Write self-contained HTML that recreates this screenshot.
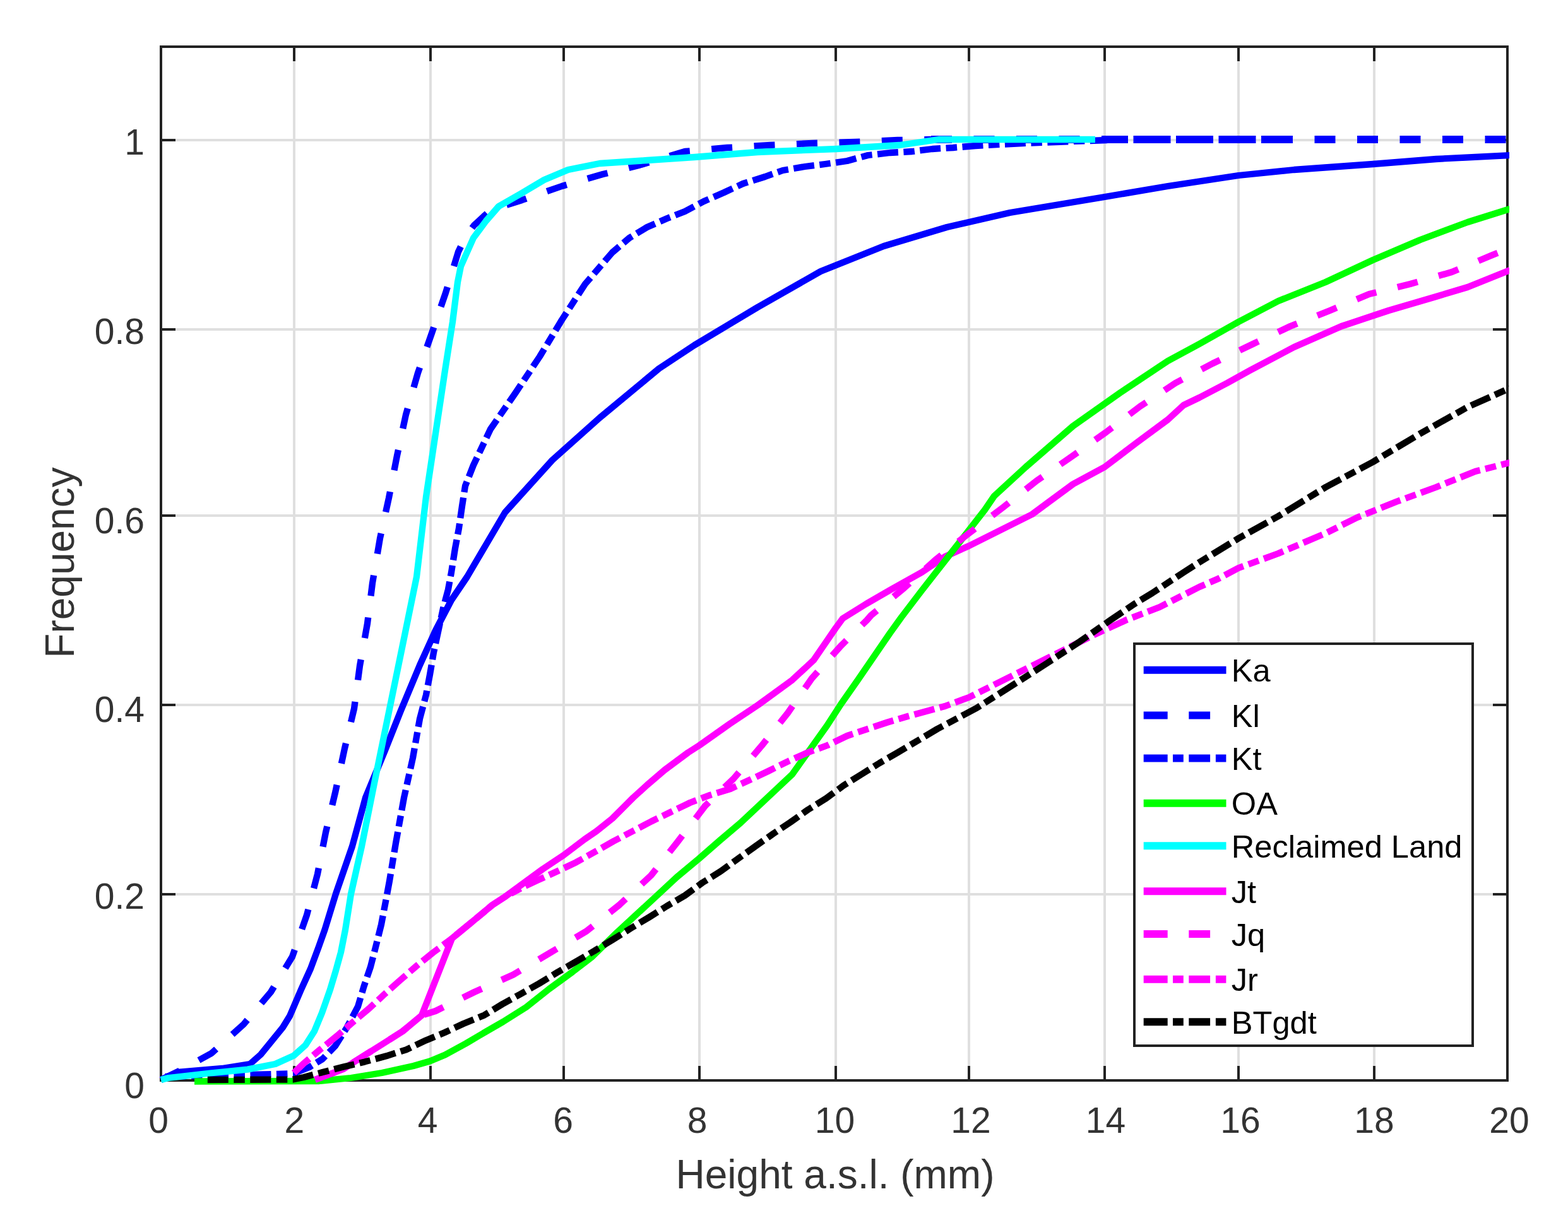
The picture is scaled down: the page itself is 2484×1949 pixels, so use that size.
<!DOCTYPE html>
<html lang="en"><head><meta charset="utf-8"><title>Frequency vs Height a.s.l.</title>
<style>html,body{margin:0;padding:0;background:#fff}svg{display:block}text{font-family:"Liberation Sans",Arial,Helvetica,sans-serif}</style></head><body>
<svg width="2484" height="1949" viewBox="0 0 2484 1949">
<rect width="2484" height="1949" fill="#fff"/>
<g shape-rendering="crispEdges">
<rect x="464" y="74" width="4" height="1638" fill="#dfdfdf"/>
<rect x="680" y="74" width="4" height="1638" fill="#dfdfdf"/>
<rect x="891" y="74" width="4" height="1638" fill="#dfdfdf"/>
<rect x="1106" y="74" width="4" height="1638" fill="#dfdfdf"/>
<rect x="1322" y="74" width="4" height="1638" fill="#dfdfdf"/>
<rect x="1533" y="74" width="4" height="1638" fill="#dfdfdf"/>
<rect x="1748" y="74" width="4" height="1638" fill="#dfdfdf"/>
<rect x="1960" y="74" width="4" height="1638" fill="#dfdfdf"/>
<rect x="2175" y="74" width="4" height="1638" fill="#dfdfdf"/>
<rect x="255" y="1415" width="2133" height="4" fill="#dfdfdf"/>
<rect x="255" y="1115" width="2133" height="4" fill="#dfdfdf"/>
<rect x="255" y="815" width="2133" height="4" fill="#dfdfdf"/>
<rect x="255" y="520" width="2133" height="4" fill="#dfdfdf"/>
<rect x="255" y="220" width="2133" height="4" fill="#dfdfdf"/>
<rect x="253" y="72" width="2137" height="4" fill="#222222"/>
<rect x="253" y="1710" width="2137" height="4" fill="#222222"/>
<rect x="253" y="72" width="4" height="1642" fill="#222222"/>
<rect x="2386" y="72" width="4" height="1642" fill="#222222"/>
<rect x="464" y="1689" width="4" height="21" fill="#222222"/>
<rect x="464" y="76" width="4" height="21" fill="#222222"/>
<rect x="680" y="1689" width="4" height="21" fill="#222222"/>
<rect x="680" y="76" width="4" height="21" fill="#222222"/>
<rect x="891" y="1689" width="4" height="21" fill="#222222"/>
<rect x="891" y="76" width="4" height="21" fill="#222222"/>
<rect x="1106" y="1689" width="4" height="21" fill="#222222"/>
<rect x="1106" y="76" width="4" height="21" fill="#222222"/>
<rect x="1322" y="1689" width="4" height="21" fill="#222222"/>
<rect x="1322" y="76" width="4" height="21" fill="#222222"/>
<rect x="1533" y="1689" width="4" height="21" fill="#222222"/>
<rect x="1533" y="76" width="4" height="21" fill="#222222"/>
<rect x="1748" y="1689" width="4" height="21" fill="#222222"/>
<rect x="1748" y="76" width="4" height="21" fill="#222222"/>
<rect x="1960" y="1689" width="4" height="21" fill="#222222"/>
<rect x="1960" y="76" width="4" height="21" fill="#222222"/>
<rect x="2175" y="1689" width="4" height="21" fill="#222222"/>
<rect x="2175" y="76" width="4" height="21" fill="#222222"/>
<rect x="257" y="1415" width="21" height="4" fill="#222222"/>
<rect x="2365" y="1415" width="21" height="4" fill="#222222"/>
<rect x="257" y="1115" width="21" height="4" fill="#222222"/>
<rect x="2365" y="1115" width="21" height="4" fill="#222222"/>
<rect x="257" y="815" width="21" height="4" fill="#222222"/>
<rect x="2365" y="815" width="21" height="4" fill="#222222"/>
<rect x="257" y="520" width="21" height="4" fill="#222222"/>
<rect x="2365" y="520" width="21" height="4" fill="#222222"/>
<rect x="257" y="220" width="21" height="4" fill="#222222"/>
<rect x="2365" y="220" width="21" height="4" fill="#222222"/>
</g>
<defs><clipPath id="c"><rect x="253" y="72" width="2138" height="1647"/></clipPath></defs>
<g clip-path="url(#c)" fill="none" stroke-width="10.3" stroke-linejoin="round">
<path d="M255 1711 L282 1699 L352 1693 L396 1686 L413 1671 L448 1628 L459 1610 L477 1568 L492 1535 L505 1500 L514.4 1473.5 L531.9 1416.5 L558 1341 L579 1264 L610 1189 L635 1126 L665 1054 L690 999 L715 951 L740 914 L800 812 L875 729 L950 662 L1044 584 L1100 547 L1200 487 L1300 430 L1400 390 L1500 360 L1600 337 L1750 312 L1850 295 L1962 278 L2050 269 L2175 260 L2275 252 L2392 246" stroke="#0000ff"/>
<path d="M255 1711 L284 1697 L335 1669 L386 1623 L429 1572 L463 1516 L486 1450 L503 1385 L516 1319 L531.5 1254 L546 1186 L561 1123 L570 1055 L582 988 L590 924 L602 853 L616 789 L629 722 L643 657 L662 591 L684 528 L706 464 L726 399 L737 376 L751 357 L777 333 L827 317 L890 295 L955 276 L1012 262 L1085 240 L1152 234 L1220 230 L1287 227 L1355 225 L1422 222 L1475 221" stroke="#0000ff" stroke-dasharray="33 34.5"/>
<path d="M1475 221 L2392 221" stroke="#0000ff" stroke-width="12" stroke-dasharray="33 34.5"/>
<path d="M261.5 1706 L396 1703 L465 1701 L490 1691 L511 1678 L531 1657.5 L549 1629 L567 1595 L576.5 1563 L587 1532 L595.5 1499 L604 1465 L612 1423 L617 1396 L622 1366 L627 1336 L640 1264 L654 1201 L665 1139 L675 1101 L681 1069 L687 1034 L702 964 L710 934 L715 907 L721 869 L727 837 L732 802 L737 770 L750 737 L777 680 L817 622 L855 565 L890 507 L927 450 L970 400 L997 377 L1025 360 L1057 346 L1085 335 L1115 319 L1147 305 L1177 291 L1212 280 L1240 270 L1275 264 L1307 260 L1342 255 L1375 246 L1410 242 L1445 240 L1477 236 L1510 234 L1545 231 L1620 227 L1700 224 L1754 222" stroke="#0000ff" stroke-dasharray="33 8.5 17.5 8.5"/>
<path d="M1754 221 L2048 221" stroke="#0000ff" stroke-width="12" stroke-dasharray="33 8.5 17.5 8.5"/>
<path d="M255 1711 L267 1708 L333 1700.5 L392 1694.6 L436 1686 L465.5 1672.6 L484 1656 L498 1634 L510 1605 L523 1568 L532 1538 L540 1509 L547 1473.5 L556 1416.5 L573 1341 L593.4 1239 L611.4 1151 L626.8 1076 L642.2 1001 L660 914 L675 787 L690 687 L705 587 L717 510 L725 447 L730 422 L750 377 L770 350 L790 327 L825 307 L862 285 L900 269 L950 259 L1025 254 L1100 249 L1200 241 L1325 236 L1425 230 L1487 221 L1735 221" stroke="#00ffff"/>
<path d="M499 1711 L523 1702 L544 1694 L562 1682 L605 1655 L638 1634 L668 1609 L716 1487 L750 1459 L780 1434 L800 1421 L830 1399 L860 1377 L893 1355 L926 1330 L945 1317 L970 1297 L1003 1264 L1025 1244 L1053 1220 L1090 1192.5 L1108 1181 L1156 1147 L1201 1117 L1255 1077.6 L1289 1046 L1324 995 L1335 980 L1372 957 L1410 935 L1460 907 L1497 882 L1535 865 L1585 840 L1635 815 L1662 795 L1700 767 L1750 740 L1800 702 L1850 665 L1875 642 L1900 630 L1944 607 L1980 587 L2050 550 L2125 517 L2200 492 L2275 470 L2325 455 L2392 428" stroke="#ff00ff"/>
<path d="M308 1713.5 L506 1713 L556 1708 L605 1700 L655 1689 L681 1681.5 L705 1671.6 L738 1653.5 L771 1634 L797 1619 L833.5 1596 L870 1567 L907 1540 L937 1517 L978 1477 L1043 1417 L1072 1390 L1108 1360 L1140 1332 L1173 1304 L1222 1258 L1255 1227 L1310 1150 L1332 1116 L1360 1076 L1410 1003 L1428 978 L1460 936 L1510 872 L1560 808 L1575 786 L1625 740 L1700 675 L1775 622 L1850 572 L1900 545 L1962 510 L2025 477 L2100 447 L2175 412 L2250 380 L2325 352 L2392 331" stroke="#00ff00"/>
<path d="M499 1711 L523 1702 L544 1694 L562 1682 L605 1655 L638 1634 L668 1609 L690 1602 L751.4 1572 L813 1544.5 L871 1510 L929 1475.5 L981.5 1433.6 L1031.5 1387 L1073 1334.5 L1117 1277 L1162 1234 L1206.6 1181.7 L1248 1129.7 L1286 1075 L1332 1023.5 L1373 983 L1380 975 L1432 932 L1482 887 L1535 845 L1589 804 L1642 762 L1697 724 L1752 685 L1806 644 L1862 607 L1921 576 L1985 545 L2044 517 L2107 492 L2169 466 L2234 450 L2300 431 L2362 405 L2392 393" stroke="#ff00ff" stroke-dasharray="33 34.5"/>
<path d="M465.5 1700 L480.5 1685.7 L506 1664 L533.4 1641.8 L557.4 1621 L584.7 1598 L607.8 1576.5 L633 1554 L660 1530.5 L686 1509.5 L716 1487 L750 1459 L780 1434 L800 1421 L830 1405 L852 1394.7 L884 1380 L912.3 1366.6 L942 1350 L971.8 1333 L1002.4 1317 L1032 1301.5 L1062 1287 L1093 1272 L1123 1260.5 L1157 1250 L1188.4 1235.5 L1218 1221.5 L1248 1206.6 L1279.4 1192.5 L1310.8 1181 L1342 1166 L1373.6 1155.3 L1406 1144.5 L1438 1135 L1497 1119 L1535 1105 L1585 1080 L1635 1055 L1685 1030 L1735 1005 L1785 982 L1837 962 L1900 930 L1930 917 L1962 900 L2025 877 L2100 845 L2150 820 L2212 795 L2275 772 L2337 747 L2392 733" stroke="#ff00ff" stroke-dasharray="33 8.5 17.5 8.5"/>
<path d="M328.8 1711 L464 1710.5 L481.3 1707 L511 1699 L544 1690.6 L578 1682.4 L612 1673.3 L643.4 1663.3 L674.8 1648.4 L704.6 1636 L734.4 1622 L767 1608.7 L796 1591 L824 1575.5 L854 1558.5 L882.5 1541 L912 1524 L942 1506.5 L970.5 1489 L1000 1470.5 L1029 1453 L1056 1436 L1085 1419 L1113 1398.5 L1142 1380.4 L1169.5 1360.4 L1197 1340.7 L1225 1321 L1252 1303 L1280 1283 L1308.3 1265.3 L1336.4 1244.7 L1365.5 1226.5 L1393.5 1209 L1422 1192.5 L1485 1155 L1547 1122 L1610 1082 L1660 1050 L1710 1017 L1760 982 L1797 957 L1825 940 L1875 907 L1900 891 L1962 853 L2025 818 L2100 772 L2175 732 L2250 687 L2325 645 L2392 615" stroke="#000000" stroke-dasharray="33 8.5 17.5 8.5"/>
</g>
<g fill="#333333" font-size="57">
<text x="251" y="1794.7" text-anchor="middle">0</text>
<text x="466.25" y="1794.7" text-anchor="middle">2</text>
<text x="677.5" y="1794.7" text-anchor="middle">4</text>
<text x="892" y="1794.7" text-anchor="middle">6</text>
<text x="1104.5" y="1794.7" text-anchor="middle">8</text>
<text x="1322.5" y="1794.7" text-anchor="middle">10</text>
<text x="1538" y="1794.7" text-anchor="middle">12</text>
<text x="1751.4" y="1794.7" text-anchor="middle">14</text>
<text x="1965" y="1794.7" text-anchor="middle">16</text>
<text x="2177" y="1794.7" text-anchor="middle">18</text>
<text x="2391" y="1794.7" text-anchor="middle">20</text>
<text x="229" y="1740" text-anchor="end">0</text>
<text x="229" y="1440" text-anchor="end">0.2</text>
<text x="229" y="1144" text-anchor="end">0.4</text>
<text x="229" y="844.5" text-anchor="end">0.6</text>
<text x="229" y="545" text-anchor="end">0.8</text>
<text x="229" y="245" text-anchor="end">1</text>
</g>
<g fill="#333333" font-size="64">
<text x="1323" y="1883" text-anchor="middle">Height a.s.l. (mm)</text>
<text transform="translate(117 891.5) rotate(-90)" text-anchor="middle">Frequency</text>
</g>
<rect x="1797" y="1020" width="536" height="637" fill="#fff" stroke="#222222" stroke-width="4" shape-rendering="crispEdges"/>
<g fill="none" stroke-width="12">
<path d="M1811.7 1061.8 L1942.5 1061.8" stroke="#0000ff"/>
<path d="M1811.7 1133.6 L1942.5 1133.6" stroke="#0000ff" stroke-dasharray="38 33.6 33.8 100"/>
<path d="M1811.7 1201.5 L1942.5 1201.5" stroke="#0000ff" stroke-dasharray="38 8.3 16.8 8.5 33.8 8.8 16.5 100"/>
<path d="M1811.7 1272.8 L1942.5 1272.8" stroke="#00ff00"/>
<path d="M1811.7 1340.3 L1942.5 1340.3" stroke="#00ffff"/>
<path d="M1811.7 1412.2 L1942.5 1412.2" stroke="#ff00ff"/>
<path d="M1811.7 1479.9 L1942.5 1479.9" stroke="#ff00ff" stroke-dasharray="38 33.6 33.8 100"/>
<path d="M1811.7 1551.7 L1942.5 1551.7" stroke="#ff00ff" stroke-dasharray="38 8.3 16.8 8.5 33.8 8.8 16.5 100"/>
<path d="M1811.7 1619.3 L1942.5 1619.3" stroke="#000000" stroke-dasharray="38 8.3 16.8 8.5 33.8 8.8 16.5 100"/>
</g>
<g fill="#000" font-size="50.6">
<text x="1950.8" y="1080.4">Ka</text>
<text x="1950.8" y="1152.2">Kl</text>
<text x="1950.8" y="1220.1">Kt</text>
<text x="1950.8" y="1291.4">OA</text>
<text x="1950.8" y="1358.9">Reclaimed Land</text>
<text x="1950.8" y="1430.8">Jt</text>
<text x="1950.8" y="1498.5">Jq</text>
<text x="1950.8" y="1570.3">Jr</text>
<text x="1950.8" y="1637.9">BTgdt</text>
</g>
</svg></body></html>
